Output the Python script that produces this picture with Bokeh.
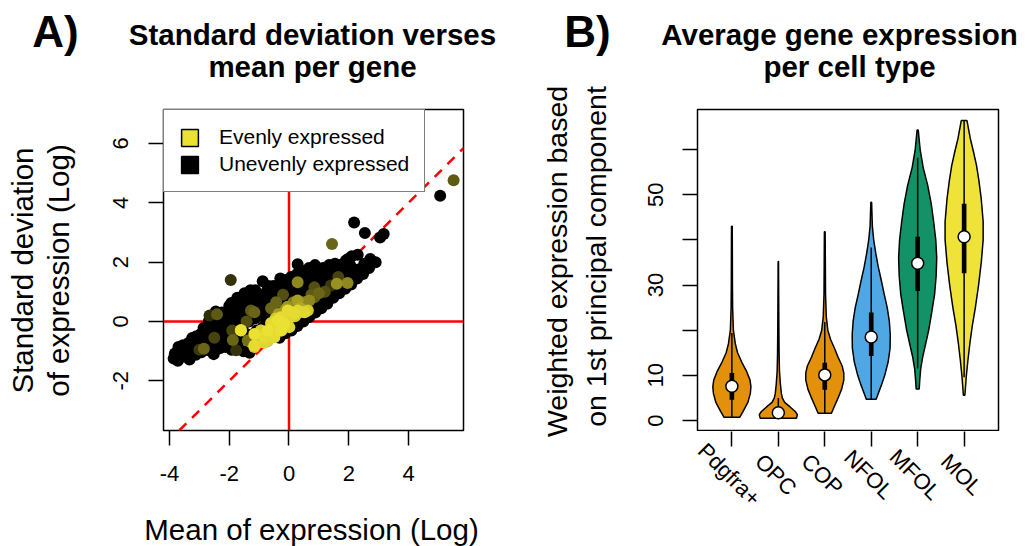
import numpy as np
from bokeh.plotting import figure
from bokeh.layouts import row, column
from bokeh.models import (ColumnDataSource, LinearColorMapper, Span, Slope, Legend,
                          LegendItem, Label, LabelSet, FixedTicker, Range1d, LinearAxis)
from bokeh.core.properties import value
from bokeh.embed import file_html
from bokeh.resources import INLINE

# ---------------- Panel A data: per-gene mean vs SD (log) ----------------
uneven_mean = [-3.86, -3.82, -3.72, -3.66, -3.70, -3.52, -3.47, -3.55, -3.33, -3.28, -3.35, -3.24, -3.12, -3.06, -3.10,
               -2.93, -2.88, -2.95, -2.86, -2.72, -2.66, -2.74, -2.68, -2.52, -2.47, -2.55, -2.50, -2.58, -2.45,
               -2.32, -2.27, -2.35, -2.30, -2.25, -2.12, -2.07, -2.15, -2.10, -2.05, -2.00,
               -1.92, -1.88, -1.95, -1.90, -1.86, -1.93, -1.72, -1.68, -1.75, -1.70, -1.66, -1.73,
               -1.52, -1.48, -1.55, -1.50, -1.46, -1.53, -1.49, -1.32, -1.28, -1.35, -1.30, -1.26, -1.33, -1.29,
               -1.12, -1.08, -1.15, -1.10, -1.06, -1.13, -0.92, -0.88, -0.95, -0.90, -0.86, -0.88,
               -0.72, -0.68, -0.75, -0.70, -0.66, -0.73, -0.69, -0.52, -0.48, -0.55, -0.50, -0.46, -0.53,
               -0.32, -0.28, -0.35, -0.30, -0.26, -0.33, -0.29, -0.12, -0.08, -0.15, -0.10, -0.06, -0.13,
               0.08, 0.12, 0.05, 0.10, 0.14, 0.07, 0.28, 0.32, 0.25, 0.30, 0.34, 0.27, 0.29,
               0.48, 0.52, 0.45, 0.50, 0.54, 0.47, 0.68, 0.72, 0.65, 0.70, 0.74, 0.67,
               0.88, 0.92, 0.85, 0.90, 0.94, 0.87, 1.08, 1.12, 1.05, 1.10, 1.14,
               1.28, 1.32, 1.25, 1.30, 1.34, 1.48, 1.52, 1.45, 1.50, 1.54,
               1.68, 1.72, 1.65, 1.70, 1.96, 1.88, 1.92, 1.85, 1.90, 2.08, 2.12, 2.05, 2.10,
               2.28, 2.32, 2.30, 2.48, 2.52, 2.68, 2.72, 2.90, 2.18, 2.54, 3.05, 3.17, 5.06]
uneven_sd = [-1.25, -1.08, -1.32, -0.98, -0.86, -1.18, -1.02, -0.80, -1.28, -0.95, -0.72, -0.56, -1.12, -0.82, -0.50,
             -1.04, -0.70, -0.42, -0.22, -0.96, -0.62, -0.30, 0.02, -1.10, -0.72, -0.45, -0.15, 0.10, 0.34,
             -0.90, -0.55, -0.25, 0.05, 0.30, -0.86, -0.60, -0.30, 0.00, 0.25, 0.52,
             -0.95, -0.50, -0.20, 0.10, 0.40, 0.62, -0.75, -0.40, -0.10, 0.20, 0.50, 0.80,
             -1.00, -0.50, -0.25, 0.10, 0.40, 0.70, 0.95, -1.05, -0.45, 0.00, 0.30, 0.60, 0.85, 1.05,
             -0.75, -0.30, 0.10, 0.45, 0.80, 1.05, -0.60, -0.20, 0.20, 0.55, 0.90, 1.36,
             -0.65, -0.35, 0.05, 0.40, 0.75, 1.05, 1.20, -0.50, -0.10, 0.30, 0.65, 0.95, 1.20,
             -0.55, -0.20, 0.20, 0.55, 0.90, 1.25, 1.45, -0.40, 0.00, 0.40, 0.80, 1.10, 1.40,
             -0.30, 0.10, 0.50, 0.85, 1.20, 1.50, -0.15, 0.25, 0.65, 1.00, 1.35, 1.60, 1.93,
             0.00, 0.40, 0.80, 1.15, 1.50, 1.70, 0.15, 0.55, 0.95, 1.30, 1.60, 1.80,
             0.30, 0.70, 1.05, 1.40, 1.70, 1.90, 0.45, 0.85, 1.20, 1.55, 1.80,
             0.60, 1.00, 1.35, 1.65, 1.90, 0.80, 1.10, 1.45, 1.75, 1.95,
             0.95, 1.30, 1.60, 1.90, 2.10, 1.10, 1.45, 1.75, 2.05, 1.25, 1.60, 1.90, 2.20,
             1.45, 1.75, 2.25, 1.60, 1.95, 1.80, 2.11, 2.00, 3.34, 2.98, 2.83, 2.95, 4.24]

even_mean = [5.51, 1.44, -1.95, 1.96, 1.60, 1.40, 0.85, 0.29, -0.43, -1.16, -1.27, -2.41, -2.66, -1.61, -1.16,
             -1.05, -0.71, -0.49, -0.32, -0.10, 0.29, 0.63, 0.55, -0.16, 0.51, -1.88, -2.85, -1.77, -0.71, -0.94,
             -1.38, -0.60, -0.45, -0.35, -0.20, 0.00, 0.10, 0.20, 0.38, -0.85, -1.00, -0.82, -0.25, -0.55, -0.35,
             -0.05, 0.15, 1.00, 1.20, -0.20, -1.90, -1.42, -0.60, 1.65, -2.50, -3.00, 0.75,
             -1.61, -1.16, -0.83, -1.16, -0.71, -0.55, -0.38, -0.27, -0.16, 0.01, 0.18, 0.29, 0.51, -0.27,
             -0.49, -0.71, -0.94, -0.04, 0.68, 0.85, -0.10, 0.29]
even_sd = [4.76, 2.61, 1.40, 1.30, 1.27, 1.21, 1.15, 1.32, 0.65, 0.31, 0.37, 0.24, 0.20, -0.29, -0.86,
           -0.64, -0.41, -0.13, 0.03, 0.14, 0.28, 0.37, 0.33, 0.37, 0.65, -0.62, -0.92, -0.97, -0.64, -0.30,
           -0.64, -0.05, 0.10, -0.08, 0.05, 0.10, 0.30, 0.18, 0.45, -0.45, -0.50, -0.72, -0.30, -0.30, 0.25,
           0.50, 0.65, 0.95, 1.00, 0.90, -0.30, 0.00, 0.45, 1.50, -0.55, -0.95, 0.90,
           -0.30, -0.42, -0.53, -0.81, -0.30, -0.13, 0.03, 0.14, -0.08, -0.19, 0.26, 0.37, 0.31, -0.30,
           -0.53, -0.64, -0.30, 0.37, 0.71, 0.82, 0.40, 0.71]
even_level = [0.40, 0.45, 0.22, 0.60, 0.65, 0.25, 0.35, 0.60, 0.45, 0.45, 0.40, 0.40, 0.20, 0.90, 0.90,
              0.85, 0.90, 0.90, 0.90, 0.90, 0.85, 0.90, 0.85, 0.50, 0.55, 0.45, 0.45, 0.22, 0.70, 0.60,
              0.50, 0.95, 0.90, 0.95, 0.95, 0.95, 0.85, 0.90, 0.75, 0.95, 0.90, 0.95, 0.85, 0.90, 0.70,
              0.65, 0.55, 0.45, 0.35, 0.35, 0.30, 0.35, 0.45, 0.30, 0.30, 0.25, 0.40,
              1.00, 1.00, 0.97, 0.97, 1.00, 0.97, 1.00, 0.97, 1.00, 0.95, 0.97, 0.95, 0.95, 1.00,
              0.97, 0.95, 0.92, 0.97, 0.60, 0.40, 0.70, 0.70]

x_ticks_a = [-4, -2, 0, 2, 4]
y_ticks_a = [-2, 0, 2, 4, 6]
tick_text_a = {-4: "-4", -2: "-2", 0: "0", 2: "2", 4: "4", 6: "6"}
legend_labels = ["Evenly expressed", "Unevenly expressed"]

# ---------------- Panel B data: violins per cell type ----------------
cell_types = ["Pdgfra+", "OPC", "COP", "NFOL", "MFOL", "MOL"]
pdgfra_levels = [0.7, 2, 4, 6, 7.5, 9, 11, 13, 15, 17, 20, 25, 30, 43]
pdgfra_density = [0.41, 0.59, 0.84, 0.97, 1.0, 0.95, 0.76, 0.51, 0.30, 0.18, 0.08, 0.04, 0.03, 0.02]
opc_levels = [0.5, 1.3, 2.0, 3.0, 4.0, 5.0, 6.0, 8.0, 11, 15, 20, 27, 35.2]
opc_density = [0.95, 1.0, 0.89, 0.62, 0.33, 0.21, 0.16, 0.11, 0.06, 0.04, 0.03, 0.02, 0.01]
cop_levels = [1.6, 3, 5, 7, 9, 10.5, 12, 14, 16, 18, 20, 23, 28, 35, 41.8]
cop_density = [0.35, 0.49, 0.70, 0.89, 1.0, 1.0, 0.92, 0.70, 0.51, 0.30, 0.16, 0.08, 0.04, 0.03, 0.02]
nfol_levels = [4.7, 6, 8, 10, 13, 16, 19, 22, 25, 28, 31, 34, 37, 40, 43, 48.3]
nfol_density = [0.26, 0.37, 0.55, 0.71, 0.89, 0.99, 1.0, 0.95, 0.84, 0.68, 0.53, 0.37, 0.24, 0.13, 0.06, 0.02]
mfol_levels = [7, 9, 11.5, 14, 17, 20, 24, 28, 32, 36, 40, 44, 48, 52, 56, 60, 64.3]
mfol_density = [0.08, 0.11, 0.16, 0.26, 0.42, 0.58, 0.74, 0.89, 0.97, 1.0, 0.95, 0.84, 0.71, 0.53, 0.29, 0.13, 0.03]
mol_levels = [5.6, 9.6, 13, 17, 21, 25, 30, 35, 40, 44, 49, 53, 56.5, 59.5, 62.5, 66.4]
mol_density = [0.04, 0.11, 0.19, 0.30, 0.43, 0.59, 0.76, 0.90, 1.0, 1.0, 0.90, 0.78, 0.65, 0.49, 0.32, 0.15]

q1 = [4.6, 1.0, 6.8, 14.3, 28.7, 32.6]
medians = [7.6, 1.7, 10.1, 18.5, 34.8, 40.7]
q3 = [10.5, 2.6, 12.8, 23.9, 40.7, 48.0]
whisker_low = [0.7, 0.5, 1.6, 4.7, 11.5, 9.6]
whisker_high = [19.4, 5.0, 21.8, 38.3, 58.2, 66.4]
y_ticks_b = [0, 10, 20, 30, 40, 50, 60]
y_labels_b = {0: "0", 10: "10", 20: "", 30: "30", 40: "", 50: "50", 60: ""}

# ---------------- styles ----------------
FONT = "Liberation Sans"
YELLOW_END = (235, 225, 50)
violin_colors = ["#E3900A", "#E3900A", "#E3900A", "#4FA8E4", "#149267", "#EFE33A"]
HALF_W = 0.41  # max half-width of a violin in category units

PAL = []
for t in np.linspace(0, 1, 256):
    r, g, b = (int(round(c * t)) for c in YELLOW_END)
    PAL.append(f"#{r:02x}{g:02x}{b:02x}")


def style_axis(ax):
    ax.axis_line_color = None
    ax.major_tick_out = 15
    ax.major_tick_in = 0
    ax.major_tick_line_width = 1.5
    ax.minor_tick_line_color = None
    ax.major_label_text_font = FONT
    ax.major_label_text_font_size = "22px"
    ax.major_label_text_color = "black"
    ax.major_label_standoff = 20


def style_plot(p):
    for ax in list(p.xaxis) + list(p.yaxis):
        style_axis(ax)
    p.xgrid.visible = False
    p.ygrid.visible = False
    p.outline_line_color = "black"
    p.outline_line_width = 1.5
    p.background_fill_color = "white"
    p.border_fill_color = "white"


def text_fig(w, h, x_range=None):
    f = figure(width=w, height=h, x_range=x_range if x_range is not None else Range1d(0, w),
               y_range=Range1d(h, 0), output_backend="svg", toolbar_location=None,
               x_axis_type=None, y_axis_type=None, frame_align=False,
               min_border_left=0, min_border_right=0, min_border_top=0, min_border_bottom=0)
    f.outline_line_color = None
    f.background_fill_color = "white"
    f.border_fill_color = "white"
    f.xgrid.visible = False
    f.ygrid.visible = False
    return f


MID = 0.37  # distance (in em) from the text's vertical middle to its baseline


def add_label(p, x, y, text, fs, bold=False, angle=0.0):
    """(x, y): centre of the baseline in local pixels; rotated labels shift along x."""
    if angle == 0.0:
        y = y - MID * fs
    else:
        x = x - MID * fs
    p.add_layout(Label(x=x, y=y, text=text, text_font=FONT, text_font_size=f"{fs}px",
                       text_font_style="bold" if bold else "normal", text_color="black",
                       text_align="center", text_baseline="middle", angle=angle))


# ================= header (titles) =================
header = text_fig(1025, 84)
add_label(header, 55, 47, "A)", 44, bold=True)
add_label(header, 312, 45, "Standard deviation verses", 29.5, bold=True)
add_label(header, 312, 77, "mean per gene", 29.5, bold=True)
add_label(header, 587, 47, "B)", 44, bold=True)
add_label(header, 839, 45, "Average gene expression", 29.5, bold=True)
add_label(header, 849, 77, "per cell type", 29.5, bold=True)

# ================= Panel A =================
XA = (-4.2008, 5.841)
YA = (-3.674, 7.145)
pa = figure(width=430, height=416, x_range=XA, y_range=YA, output_backend="svg",
            toolbar_location=None, min_border_left=63, min_border_right=67,
            min_border_top=25, min_border_bottom=70, frame_align=False)
style_plot(pa)
pa.xaxis.ticker = FixedTicker(ticks=x_ticks_a)
pa.yaxis.ticker = FixedTicker(ticks=y_ticks_a)
pa.xaxis.major_label_overrides = tick_text_a
pa.yaxis.major_label_overrides = tick_text_a
pa.yaxis.major_label_orientation = "parallel"

pa.add_layout(Span(location=0, dimension="width", line_color="red", line_width=2.5, level="underlay"))
pa.add_layout(Span(location=0, dimension="height", line_color="red", line_width=2.5, level="underlay"))
pa.add_layout(Slope(gradient=1, y_intercept=0, line_color="red", line_width=2.5,
                    line_dash="10 8", level="underlay"))

all_mean = list(uneven_mean) + list(even_mean)
all_sd = list(uneven_sd) + list(even_sd)
all_lev = [0.0] * len(uneven_mean) + list(even_level)
order = np.argsort(np.array(all_lev), kind="stable")
src_a = ColumnDataSource(dict(x=np.array(all_mean)[order], y=np.array(all_sd)[order],
                              lev=np.array(all_lev)[order]))
mapper = LinearColorMapper(palette=PAL, low=0, high=1)
pa.scatter("x", "y", source=src_a, size=12, line_color=None,
           fill_color={"field": "lev", "transform": mapper})

# legend swatches (NaN geometry: only drawn as legend keys)
r_even = pa.quad(left=[np.nan], right=[np.nan], top=[np.nan], bottom=[np.nan],
                 fill_color=PAL[-1], line_color="black", line_width=1.5)
r_uneven = pa.quad(left=[np.nan], right=[np.nan], top=[np.nan], bottom=[np.nan],
                   fill_color="black", line_color="black", line_width=1.5)
legend = Legend(items=[LegendItem(label=legend_labels[0], renderers=[r_even]),
                       LegendItem(label=legend_labels[1], renderers=[r_uneven])],
                location="top_left", margin=0, padding=15, spacing=3,
                glyph_width=21, glyph_height=21, label_standoff=19,
                label_text_font=FONT, label_text_font_size="21px", label_text_color="black",
                border_line_color="black", border_line_width=1.5,
                background_fill_color="white", background_fill_alpha=1.0)
pa.add_layout(legend)

leftA = text_fig(100, 462)
add_label(leftA, 33, 186, "Standard deviation", 29.5, angle=np.pi / 2)
add_label(leftA, 69, 186, "of expression (Log)", 29.5, angle=np.pi / 2)

footA = text_fig(430, 46)
add_label(footA, 211, 40, "Mean of expression (Log)", 29.5)

# ================= Panel B =================
XB = (0.26, 6.74)
YB = (-2.214, 68.86)
pb = figure(width=395, height=347, x_range=XB, y_range=YB, output_backend="svg",
            toolbar_location=None, min_border_left=67, min_border_right=27,
            min_border_top=25, min_border_bottom=1, frame_align=False,
            x_axis_location=None)
style_plot(pb)
pos = list(range(1, len(cell_types) + 1))
pb.yaxis.ticker = FixedTicker(ticks=y_ticks_b)
pb.yaxis.major_label_overrides = y_labels_b
pb.yaxis.major_label_orientation = "parallel"
pb.yaxis.major_label_standoff = 19

levels_all = [pdgfra_levels, opc_levels, cop_levels, nfol_levels, mfol_levels, mol_levels]
dens_all = [pdgfra_density, opc_density, cop_density, nfol_density, mfol_density, mol_density]
xs, ys = [], []
for c, lv, dn in zip(pos, levels_all, dens_all):
    lv = np.asarray(lv, float)
    dn = np.asarray(dn, float) * HALF_W
    xs.append(list(np.concatenate([c - dn, (c + dn)[::-1]])))
    ys.append(list(np.concatenate([lv, lv[::-1]])))
pb.patches(xs=xs, ys=ys, fill_color=violin_colors, line_color="black", line_width=1.5)

src_b = ColumnDataSource(dict(x=pos, q1=q1, q3=q3, med=medians, lo=whisker_low, hi=whisker_high))
pb.segment(x0="x", y0="lo", x1="x", y1="hi", source=src_b, line_color="black", line_width=1.5)
pb.vbar(x="x", bottom="q1", top="q3", width=0.1, source=src_b, fill_color="black", line_color=None)
pb.scatter("x", "med", source=src_b, size=12, fill_color="white", line_color="black", line_width=1.5)

leftB = text_fig(100, 462)
add_label(leftB, 37, 177, "Weighted expression based", 28.5, angle=np.pi / 2)
add_label(leftB, 76, 172, "on 1st principal component", 28.5, angle=np.pi / 2)

# category axis strip under panel B: same x scale as panel B's frame (67 px left, 27 px right border)
span_b = XB[1] - XB[0]
footB = text_fig(395, 115, x_range=Range1d(XB[0] - 67 / 301 * span_b, XB[1] + 27 / 301 * span_b))
cat_axis = LinearAxis(ticker=FixedTicker(ticks=pos))
style_axis(cat_axis)
cat_axis.major_tick_out = 0
cat_axis.major_tick_in = 15
cat_axis.major_label_overrides = {i: "" for i in pos}
cat_axis.major_label_text_font_size = "0px"
cat_axis.major_label_standoff = 0
footB.add_layout(cat_axis, "above")
lab_src = ColumnDataSource(dict(x=pos, y=[43] * len(pos), name=cell_types))
footB.add_layout(LabelSet(x="x", y="y", text="name", source=lab_src, angle=-np.pi / 4,
                          text_align="center", text_baseline="middle", x_offset=-2.5,
                          text_font=value(FONT), text_font_size=value("22px"),
                          text_color="black"))

layout = column(header,
                row(leftA, column(pa, footA), leftB, column(pb, footB)))
open("out.html", "w").write(file_html(layout, INLINE))
